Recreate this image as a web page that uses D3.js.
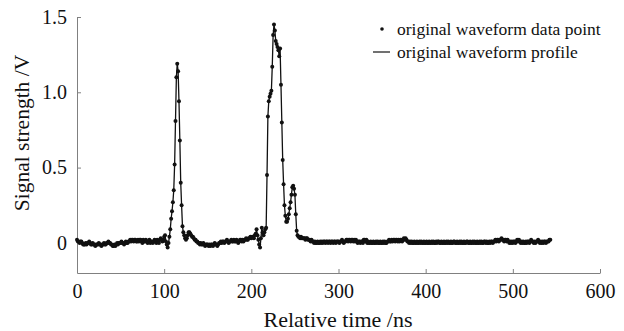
<!DOCTYPE html>
<html>
<head>
<meta charset="utf-8">
<script src="https://cdn.jsdelivr.net/npm/d3@7"></script>
<style>
  body { margin: 0; background: #fff; }
  svg text { font-family: "Liberation Serif", "DejaVu Serif", serif; fill: #111; }
</style>
</head>
<body>
<div id="chart"></div>
<script>
// sampling of the waveform (ns)
const startTime = 0
const stepNs = 1

// signal strength (V), one sample per ns
const signal = [
  0.02, 0.01, 0.01, 0.00, 0.01, 0.01, 0.00, -0.01, -0.01, -0.01,
  0.00, -0.01, 0.00, 0.00, 0.01, 0.00, -0.01, -0.01, 0.00, -0.01,
  -0.01, -0.02, -0.01, -0.01, -0.01, 0.00, -0.01, -0.01, -0.02, -0.01,
  -0.01, 0.00, -0.01, -0.01, 0.00, 0.00, 0.01, 0.00, 0.00, -0.01,
  -0.01, -0.02, -0.02, -0.01, -0.02, -0.01, 0.00, -0.01, 0.00, 0.00,
  0.00, 0.01, 0.00, 0.00, -0.01, 0.00, 0.01, 0.00, 0.00, 0.01,
  0.01, 0.02, 0.01, 0.02, 0.02, 0.01, 0.02, 0.02, 0.01, 0.01,
  0.02, 0.01, 0.02, 0.02, 0.01, 0.00, 0.02, 0.01, 0.01, 0.02,
  0.01, 0.00, 0.01, 0.02, 0.00, 0.01, 0.01, 0.00, 0.01, 0.02,
  0.01, 0.00, 0.02, 0.01, 0.00, 0.02, 0.03, 0.02, 0.01, 0.02,
  0.04, 0.05, 0.01, -0.01, -0.03, 0.00, 0.04, 0.09, 0.16, 0.21,
  0.27, 0.35, 0.52, 0.81, 1.10, 1.19, 1.14, 0.94, 0.68, 0.40,
  0.25, 0.11, 0.07, 0.05, 0.03, 0.02, 0.03, 0.05, 0.07, 0.07,
  0.06, 0.05, 0.04, 0.04, 0.03, 0.02, 0.02, 0.01, 0.01, 0.00,
  0.00, -0.01, 0.00, -0.01, -0.01, 0.00, -0.01, -0.02, -0.01, -0.01,
  -0.01, -0.02, -0.01, -0.02, -0.01, -0.01, -0.02, -0.01, 0.00, -0.01,
  -0.01, -0.02, -0.01, 0.00, 0.00, 0.01, 0.00, 0.01, 0.01, 0.00,
  0.01, 0.01, 0.02, 0.01, 0.00, 0.01, 0.01, 0.02, 0.01, 0.01,
  0.02, 0.01, 0.01, 0.02, 0.01, 0.00, 0.01, 0.02, 0.02, 0.01,
  0.02, 0.01, 0.02, 0.02, 0.03, 0.02, 0.02, 0.03, 0.03, 0.04,
  0.03, 0.04, 0.04, 0.03, 0.05, 0.06, 0.09, 0.05, 0.02, -0.01,
  -0.03, 0.03, 0.10, 0.07, 0.05, 0.07, 0.09, 0.10, 0.45, 0.84,
  0.94, 0.97, 0.99, 1.01, 1.17, 1.38, 1.45, 1.41, 1.34, 1.32,
  1.30, 1.28, 1.24, 1.29, 1.05, 0.80, 0.55, 0.39, 0.25, 0.18,
  0.14, 0.14, 0.16, 0.19, 0.23, 0.27, 0.32, 0.37, 0.38, 0.36,
  0.32, 0.19, 0.08, 0.05, 0.04, 0.04, 0.03, 0.04, 0.03, 0.03,
  0.03, 0.03, 0.02, 0.03, 0.03, 0.02, 0.02, 0.02, 0.01, 0.02,
  0.01, 0.01, 0.00, 0.01, 0.00, 0.00, 0.01, 0.00, 0.00, 0.01,
  0.00, 0.01, 0.00, 0.01, 0.01, 0.00, 0.01, 0.01, 0.00, 0.01,
  0.01, 0.00, 0.01, 0.01, 0.00, 0.01, 0.01, 0.00, 0.01, 0.01,
  0.01, 0.00, 0.01, 0.01, 0.02, 0.01, 0.00, 0.01, 0.01, 0.02,
  0.02, 0.01, 0.02, 0.02, 0.01, 0.02, 0.02, 0.01, 0.02, 0.01,
  0.02, 0.01, 0.00, 0.01, 0.01, 0.00, 0.01, 0.01, 0.00, 0.02,
  0.02, 0.01, 0.02, 0.00, 0.01, 0.00, 0.00, 0.01, 0.00, 0.00,
  0.01, 0.00, 0.00, 0.01, 0.00, 0.01, 0.00, 0.00, 0.01, 0.00,
  0.00, 0.01, 0.00, 0.01, 0.00, 0.00, 0.01, 0.01, 0.02, 0.01,
  0.01, 0.02, 0.01, 0.02, 0.02, 0.01, 0.02, 0.02, 0.01, 0.02,
  0.01, 0.02, 0.02, 0.01, 0.02, 0.03, 0.02, 0.03, 0.02, 0.01,
  0.01, 0.00, 0.01, 0.00, 0.01, 0.00, 0.00, 0.01, 0.00, 0.00,
  0.01, 0.00, 0.00, 0.01, 0.00, 0.01, 0.00, 0.00, 0.01, 0.00,
  0.00, 0.01, 0.00, 0.00, 0.01, 0.00, 0.00, 0.01, 0.00, 0.01,
  0.00, 0.00, 0.01, 0.00, 0.01, 0.01, 0.00, 0.00, 0.01, 0.00,
  0.00, 0.01, 0.00, 0.00, 0.01, 0.00, 0.01, 0.00, 0.00, 0.01,
  0.00, 0.00, 0.01, 0.01, 0.00, 0.00, 0.01, 0.00, 0.00, 0.01,
  0.00, 0.01, 0.00, 0.00, 0.01, 0.00, 0.00, 0.01, 0.01, 0.00,
  0.00, 0.01, 0.00, 0.00, 0.01, 0.00, 0.01, 0.00, 0.00, 0.01,
  0.00, 0.00, 0.01, 0.00, 0.01, 0.00, 0.00, 0.01, 0.01, 0.00,
  0.01, 0.00, 0.00, 0.01, 0.00, 0.01, 0.01, 0.00, 0.01, 0.01,
  0.02, 0.01, 0.02, 0.02, 0.01, 0.02, 0.02, 0.03, 0.02, 0.02,
  0.01, 0.02, 0.02, 0.01, 0.02, 0.01, 0.00, 0.01, 0.00, 0.01,
  0.00, 0.01, 0.01, 0.00, 0.01, 0.02, 0.01, 0.02, 0.01, 0.00,
  0.01, 0.00, 0.01, 0.00, 0.00, 0.01, 0.00, 0.01, 0.01, 0.00,
  0.01, 0.02, 0.01, 0.01, 0.00, 0.01, 0.00, 0.01, 0.01, 0.02,
  0.01, 0.00, 0.01, 0.00, 0.01, 0.00, 0.01, 0.01, 0.00, 0.01,
  0.01, 0.01, 0.02, 0.02
]

const xTicks = [0, 100, 200, 300, 400, 500, 600]
const yTicks = [0, 0.5, 1.0, 1.5]
const legendLabels = ["original waveform data point", "original waveform profile"]

const width = 624
const height = 331
const margin = {top: 17, right: 24, bottom: 58, left: 77}
const fontStack = '"Liberation Serif", "DejaVu Serif", serif'

const svg = d3.select("#chart").append("svg")
  .attr("width", width)
  .attr("height", height)

const x = d3.scaleLinear().domain([0, 600]).range([margin.left, width - margin.right])
const y = d3.scaleLinear().domain([-0.2, 1.5]).range([height - margin.bottom, margin.top])

const points = signal.map((v, i) => ({t: startTime + i * stepNs, v: v}))

// axes, ticks pointing inward
const xAxis = svg.append("g")
  .attr("transform", `translate(0,${height - margin.bottom})`)
  .call(d3.axisBottom(x).tickValues(xTicks).tickSize(-4).tickSizeOuter(0).tickPadding(11))
const yAxis = svg.append("g")
  .attr("transform", `translate(${margin.left},0)`)
  .call(d3.axisLeft(y).tickValues(yTicks).tickSize(-4).tickSizeOuter(0).tickPadding(10)
    .tickFormat(d => d === 0 ? "0" : d3.format(".1f")(d)))

;[xAxis, yAxis].forEach(g => {
  g.attr("font-family", fontStack)
  g.select(".domain").attr("stroke", "#808080").attr("stroke-width", 1)
  g.selectAll(".tick line").attr("stroke", "#808080")
  g.selectAll(".tick text").attr("font-size", 20).attr("fill", "#111")
})

// waveform profile
svg.append("path")
  .datum(points)
  .attr("fill", "none")
  .attr("stroke", "#111")
  .attr("stroke-width", 1.3)
  .attr("d", d3.line().x(d => x(d.t)).y(d => y(d.v)))

// data points
svg.append("g").selectAll("circle")
  .data(points)
  .join("circle")
    .attr("cx", d => x(d.t))
    .attr("cy", d => y(d.v))
    .attr("r", 2.0)
    .attr("fill", "#111")

// axis titles
svg.append("text")
  .attr("x", 338).attr("y", 327)
  .attr("text-anchor", "middle")
  .attr("font-size", 22)
  .text("Relative time /ns")
svg.append("text")
  .attr("transform", "translate(29,133) rotate(-90)")
  .attr("text-anchor", "middle")
  .attr("font-size", 21.5)
  .text("Signal strength /V")

// legend
const legend = svg.append("g")
legend.append("circle").attr("cx", 382).attr("cy", 29).attr("r", 1.8).attr("fill", "#111")
legend.append("line").attr("x1", 373).attr("x2", 390).attr("y1", 52).attr("y2", 52)
  .attr("stroke", "#111").attr("stroke-width", 1.2)
legend.selectAll("text")
  .data(legendLabels)
  .join("text")
    .attr("x", 397)
    .attr("y", (d, i) => 35 + i * 23)
    .attr("font-size", 17.5)
    .text(d => d)
</script>
</body>
</html>
